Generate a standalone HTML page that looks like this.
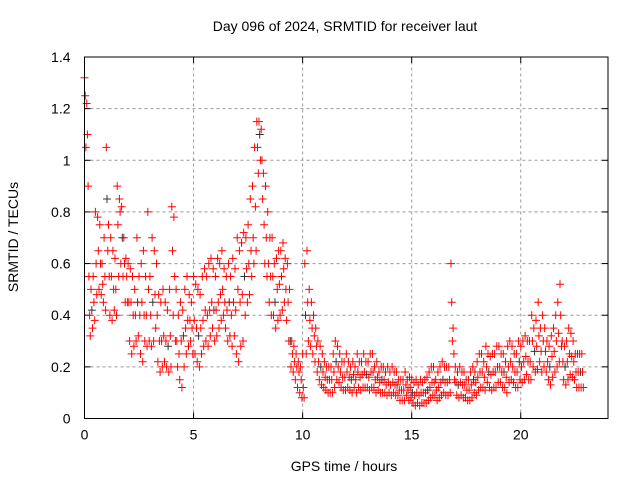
<!DOCTYPE html>
<html><head><meta charset="utf-8"><style>
body{margin:0;background:#fff}
svg{display:block;font-family:"Liberation Sans",sans-serif}
</style></head><body>
<svg id="chart" width="640" height="480" viewBox="0 0 640 480">
<text x="345" y="31" font-size="14" text-anchor="middle">Day 096 of 2024, SRMTID for receiver laut</text>
<text x="344" y="471" font-size="14" text-anchor="middle">GPS time / hours</text>
<text transform="translate(18,237) rotate(-90)" font-size="14" text-anchor="middle">SRMTID / TECUs</text>
<g id="grid"></g>
<g id="ticks"></g>
<g id="marks"></g>
<rect x="84.5" y="57" width="523.5" height="361.5" fill="none" stroke="#000" stroke-width="1"/>
</svg>
<script>
const xTicks=[0,5,10,15,20];
const yTicks=[0,0.2,0.4,0.6,0.8,1,1.2,1.4];
const yTickLabels=["0","0.2","0.4","0.6","0.8","1","1.2","1.4"];
const tStart=0, tStep=0.1;
const seriesHigh=[
1.32,1.22,0.55,0.50,0.55,0.80,0.78,0.75,0.60,0.70,
1.05,0.75,0.70,0.65,0.62,0.90,0.85,0.82,0.70,0.62,
0.60,0.58,0.55,0.50,0.70,0.55,0.60,0.65,0.55,0.80,
0.55,0.70,0.65,0.60,0.48,0.45,0.50,0.45,0.42,0.50,
0.82,0.78,0.50,0.40,0.45,0.42,0.50,0.55,0.48,0.45,
0.55,0.52,0.50,0.48,0.55,0.58,0.55,0.60,0.62,0.58,
0.55,0.62,0.60,0.65,0.58,0.55,0.60,0.55,0.62,0.58,
0.70,0.65,0.68,0.72,0.70,0.75,0.85,0.90,1.05,1.15,
1.15,1.12,0.95,0.90,0.80,0.70,0.70,0.60,0.62,0.65,
0.65,0.68,0.62,0.60,0.50,0.30,0.28,0.25,0.22,0.20,
0.25,0.60,0.65,0.50,0.45,0.40,0.35,0.30,0.28,0.25,
0.22,0.20,0.20,0.20,0.25,0.30,0.28,0.25,0.22,0.22,
0.25,0.22,0.20,0.22,0.20,0.25,0.22,0.22,0.25,0.22,
0.22,0.25,0.25,0.20,0.22,0.18,0.20,0.20,0.18,0.20,
0.18,0.20,0.18,0.18,0.15,0.15,0.15,0.18,0.15,0.16,
0.15,0.14,0.15,0.13,0.15,0.14,0.15,0.16,0.18,0.20,
0.20,0.15,0.18,0.20,0.22,0.20,0.20,0.20,0.60,0.35,
0.20,0.18,0.20,0.18,0.18,0.15,0.15,0.18,0.20,0.18,
0.22,0.25,0.25,0.22,0.28,0.25,0.24,0.25,0.25,0.28,
0.28,0.25,0.25,0.22,0.28,0.30,0.28,0.25,0.25,0.30,
0.28,0.30,0.32,0.30,0.30,0.40,0.35,0.38,0.45,0.35,
0.40,0.35,0.30,0.28,0.32,0.35,0.40,0.45,0.52,0.30,
0.28,0.30,0.35,0.33,0.30,0.25,0.25,0.25,0.25];
const seriesMid=[
1.25,1.10,0.40,0.42,0.45,0.60,0.65,0.60,0.52,0.55,
0.85,0.55,0.55,0.50,0.50,0.75,0.80,0.70,0.60,0.55,
0.45,0.45,0.40,0.40,0.45,0.40,0.45,0.40,0.40,0.50,
0.40,0.45,0.48,0.40,0.30,0.30,0.32,0.30,0.28,0.32,
0.65,0.55,0.30,0.25,0.30,0.32,0.35,0.38,0.38,0.35,
0.38,0.35,0.32,0.35,0.38,0.42,0.40,0.42,0.45,0.42,
0.42,0.45,0.48,0.50,0.45,0.42,0.45,0.40,0.45,0.42,
0.50,0.45,0.48,0.55,0.58,0.60,0.65,0.70,0.82,1.05,
1.10,1.00,0.75,0.70,0.60,0.55,0.55,0.45,0.50,0.52,
0.55,0.58,0.50,0.45,0.30,0.25,0.22,0.20,0.18,0.15,
0.12,0.40,0.45,0.38,0.35,0.32,0.28,0.22,0.20,0.18,
0.16,0.15,0.15,0.15,0.18,0.22,0.20,0.18,0.16,0.16,
0.18,0.16,0.15,0.17,0.15,0.18,0.16,0.17,0.18,0.17,
0.16,0.18,0.18,0.15,0.16,0.14,0.15,0.15,0.13,0.14,
0.13,0.14,0.13,0.13,0.11,0.11,0.11,0.13,0.11,0.12,
0.10,0.09,0.10,0.09,0.10,0.10,0.10,0.11,0.12,0.14,
0.14,0.11,0.12,0.14,0.15,0.14,0.14,0.15,0.45,0.25,
0.14,0.13,0.14,0.13,0.13,0.11,0.11,0.13,0.15,0.14,
0.16,0.18,0.18,0.16,0.20,0.18,0.17,0.18,0.18,0.20,
0.20,0.18,0.18,0.16,0.20,0.22,0.20,0.18,0.18,0.22,
0.20,0.22,0.24,0.22,0.22,0.30,0.26,0.28,0.32,0.26,
0.30,0.26,0.22,0.20,0.24,0.26,0.30,0.33,0.40,0.22,
0.20,0.22,0.25,0.24,0.22,0.18,0.18,0.18,0.18];
const seriesLow=[
1.05,0.90,0.32,0.35,0.38,0.48,0.50,0.48,0.45,0.42,
0.65,0.40,0.38,0.42,0.40,0.55,0.60,0.55,0.45,0.45,
0.30,0.25,0.28,0.30,0.32,0.25,0.22,0.30,0.28,0.30,
0.28,0.30,0.35,0.22,0.18,0.20,0.22,0.20,0.18,0.20,
0.40,0.30,0.20,0.15,0.12,0.20,0.25,0.28,0.30,0.25,
0.25,0.22,0.20,0.25,0.28,0.30,0.28,0.32,0.35,0.30,
0.32,0.35,0.38,0.40,0.35,0.30,0.32,0.28,0.32,0.25,
0.22,0.28,0.30,0.40,0.45,0.48,0.55,0.60,0.65,0.95,
1.00,0.85,0.60,0.55,0.45,0.40,0.40,0.35,0.38,0.40,
0.42,0.45,0.38,0.30,0.20,0.18,0.15,0.12,0.10,0.08,
0.08,0.25,0.30,0.28,0.25,0.22,0.18,0.15,0.13,0.12,
0.11,0.10,0.10,0.10,0.12,0.15,0.14,0.12,0.11,0.11,
0.12,0.11,0.10,0.12,0.10,0.12,0.11,0.12,0.12,0.12,
0.11,0.12,0.12,0.10,0.11,0.10,0.10,0.10,0.09,0.10,
0.09,0.10,0.09,0.09,0.07,0.07,0.07,0.09,0.07,0.08,
0.06,0.05,0.06,0.05,0.06,0.06,0.06,0.07,0.08,0.09,
0.09,0.07,0.08,0.09,0.10,0.09,0.09,0.10,0.30,0.15,
0.09,0.08,0.09,0.08,0.08,0.07,0.07,0.08,0.10,0.09,
0.11,0.12,0.12,0.11,0.14,0.12,0.11,0.12,0.12,0.14,
0.14,0.12,0.12,0.10,0.14,0.15,0.14,0.12,0.12,0.15,
0.14,0.15,0.17,0.15,0.15,0.20,0.18,0.19,0.22,0.18,
0.20,0.18,0.15,0.13,0.16,0.18,0.20,0.22,0.28,0.15,
0.13,0.15,0.17,0.16,0.15,0.12,0.12,0.12,0.12];

const X0=84.5,X1=608,Y0=418.5,Y1=57,XMAX=24,YMAX=1.4;
const xs=v=>X0+(v/XMAX)*(X1-X0);
const ys=v=>Y0-(v/YMAX)*(Y0-Y1);
const NS="http://www.w3.org/2000/svg";
const grid=document.getElementById('grid'),ticks=document.getElementById('ticks'),marks=document.getElementById('marks');
function ln(p,x1,y1,x2,y2,st,dash){const l=document.createElementNS(NS,'line');l.setAttribute('x1',x1);l.setAttribute('y1',y1);l.setAttribute('x2',x2);l.setAttribute('y2',y2);l.setAttribute('stroke',st);if(dash)l.setAttribute('stroke-dasharray',dash);p.appendChild(l);return l;}
function tx(p,x,y,s,anchor){const t=document.createElementNS(NS,'text');t.setAttribute('x',x);t.setAttribute('y',y);t.setAttribute('font-size','14');t.setAttribute('text-anchor',anchor);t.textContent=s;p.appendChild(t);return t;}
xTicks.forEach(v=>{const x=xs(v);
 const g=ln(grid,x,Y0,x,Y1,'#999','3,3');
 
 
 ln(ticks,x,Y0,x,Y0-6,'#000');ln(ticks,x,Y1,x,Y1+6,'#000');
 const t=tx(ticks,x,Y0+21,String(v),'middle');
 
 
});
yTicks.forEach((v,i)=>{const y=ys(v);
 const g=ln(grid,X0,y,X1,y,'#999','3,3');
 
 
 ln(ticks,X0,y,X0+6,y,'#000');ln(ticks,X1,y,X1-6,y,'#000');
 const t=tx(ticks,X0-14,y+5,yTickLabels[i],'end');
 
 
});
let d='',dk='';
[seriesHigh,seriesMid,seriesLow].forEach((arr,si)=>{
 arr.forEach((v,i)=>{const t=tStart+i*tStep+si*0.033;const x=xs(t),y=ys(v);
  const seg=`M${(x-4).toFixed(1)} ${y.toFixed(1)}h8M${x.toFixed(1)} ${(y-4).toFixed(1)}v8`;
  if(si===1&&i%7===3)dk+=seg;else d+=seg;});
});
const pk=document.createElementNS(NS,'path');pk.setAttribute('d',dk);pk.setAttribute('stroke','#333');pk.setAttribute('fill','none');


marks.appendChild(pk);
const pr=document.createElementNS(NS,'path');pr.setAttribute('d',d);pr.setAttribute('stroke','#ff0000');pr.setAttribute('fill','none');


marks.appendChild(pr);
</script>
</body></html>
